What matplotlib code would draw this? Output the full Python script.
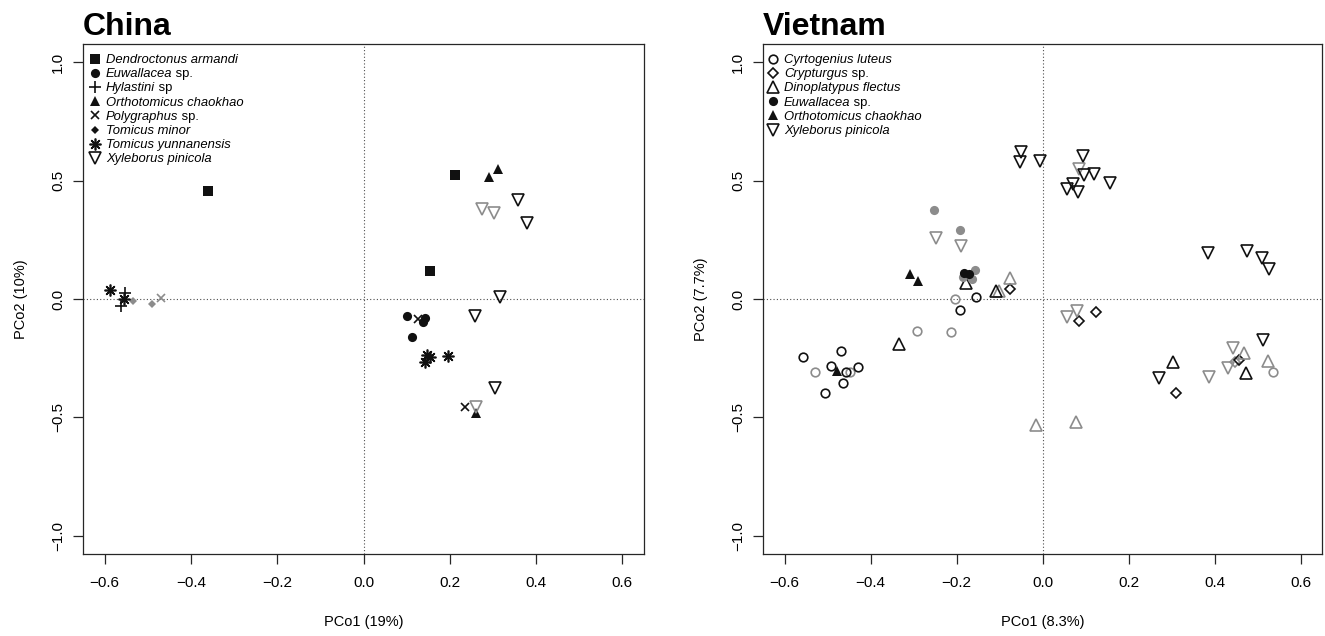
import matplotlib
matplotlib.use("Agg")
import matplotlib.pyplot as plt

plt.rcParams['font.family'] = ['Liberation Sans', 'DejaVu Sans']

BLACK = '#111111'
GREY = '#8c8c8c'

# ---- China: (PCo1, PCo2, shade)  shade 'k' = black, 'g' = grey
cn_dendroctonus = [(-0.360, 0.455, 'k'), (0.212, 0.523, 'k'), (0.154, 0.118, 'k')]
cn_euwallacea = [(0.100, -0.072, 'k'), (0.137, -0.096, 'k'), (0.142, -0.082, 'k'), (0.112, -0.160, 'k')]
cn_hylastini = [(-0.552, 0.025, 'k'), (-0.563, -0.030, 'k')]
cn_orthotomicus = [(0.290, 0.515, 'k'), (0.311, 0.549, 'k'), (0.260, -0.481, 'k')]
cn_polygraphus = [(0.126, -0.085, 'k'), (0.235, -0.456, 'k'), (-0.470, 0.004, 'g')]
cn_tomicus_minor = [(-0.535, -0.010, 'g'), (-0.489, -0.020, 'g')]
cn_tomicus_yunn = [(-0.587, 0.038, 'k'), (-0.556, 0.000, 'k'), (0.146, -0.237, 'k'),
                   (0.142, -0.265, 'k'), (0.153, -0.243, 'k'), (0.196, -0.240, 'k')]
cn_xyleborus = [(0.357, 0.418, 'k'), (0.380, 0.320, 'k'), (0.316, 0.008, 'k'),
                (0.258, -0.072, 'k'), (0.304, -0.376, 'k'),
                (0.274, 0.380, 'g'), (0.303, 0.363, 'g'), (0.260, -0.456, 'g')]

# ---- Vietnam
vn_cyrtogenius = [(-0.558, -0.246, 'k'), (-0.469, -0.218, 'k'), (-0.492, -0.283, 'k'),
                  (-0.430, -0.286, 'k'), (-0.457, -0.309, 'k'), (-0.465, -0.353, 'k'),
                  (-0.506, -0.398, 'k'), (-0.155, 0.007, 'k'), (-0.193, -0.046, 'k'),
                  (-0.529, -0.307, 'g'), (-0.448, -0.307, 'g'), (-0.293, -0.134, 'g'),
                  (-0.213, -0.141, 'g'), (-0.203, -0.001, 'g'), (0.537, -0.307, 'g')]
vn_crypturgus = [(-0.076, 0.041, 'k'), (0.084, -0.091, 'k'), (0.124, -0.053, 'k'),
                 (0.458, -0.257, 'k'), (0.310, -0.395, 'k'), (0.447, -0.268, 'g')]
vn_dinoplatypus = [(-0.177, 0.066, 'k'), (-0.109, 0.034, 'k'), (-0.334, -0.192, 'k'),
                   (0.304, -0.264, 'k'), (0.473, -0.311, 'k'),
                   (-0.101, 0.032, 'g'), (-0.076, 0.087, 'g'), (0.469, -0.229, 'g'),
                   (0.525, -0.260, 'g'), (-0.014, -0.534, 'g'), (0.079, -0.520, 'g')]
vn_euwallacea = [(-0.182, 0.111, 'k'), (-0.170, 0.106, 'k'),
                 (-0.253, 0.376, 'g'), (-0.193, 0.291, 'g'), (-0.156, 0.122, 'g'),
                 (-0.184, 0.094, 'g'), (-0.164, 0.084, 'g')]
vn_orthotomicus = [(-0.307, 0.104, 'k'), (-0.290, 0.077, 'k'), (-0.479, -0.302, 'k')]
vn_xyleborus = [(-0.049, 0.622, 'k'), (-0.053, 0.579, 'k'), (-0.006, 0.584, 'k'),
                (0.094, 0.603, 'k'), (0.096, 0.523, 'k'), (0.120, 0.530, 'k'),
                (0.157, 0.491, 'k'), (0.072, 0.485, 'k'), (0.057, 0.463, 'k'),
                (0.082, 0.453, 'k'), (0.385, 0.193, 'k'), (0.476, 0.203, 'k'),
                (0.510, 0.174, 'k'), (0.527, 0.125, 'k'), (0.513, -0.173, 'k'),
                (0.271, -0.335, 'k'),
                (0.084, 0.548, 'g'), (-0.247, 0.256, 'g'), (-0.189, 0.224, 'g'),
                (0.057, -0.077, 'g'), (0.080, -0.049, 'g'), (0.444, -0.208, 'g'),
                (0.431, -0.293, 'g'), (0.387, -0.328, 'g')]

# legend labels: (italic part, roman part)
cn_labels = [("Dendroctonus armandi", ""), ("Euwallacea", " sp."), ("Hylastini", " sp"),
             ("Orthotomicus chaokhao", ""), ("Polygraphus", " sp."), ("Tomicus minor", ""),
             ("Tomicus yunnanensis", ""), ("Xyleborus pinicola", "")]
vn_labels = [("Cyrtogenius luteus", ""), ("Crypturgus", " sp."), ("Dinoplatypus flectus", ""),
             ("Euwallacea", " sp."), ("Orthotomicus chaokhao", ""), ("Xyleborus pinicola", "")]

cn_data = [cn_dendroctonus, cn_euwallacea, cn_hylastini, cn_orthotomicus,
           cn_polygraphus, cn_tomicus_minor, cn_tomicus_yunn, cn_xyleborus]
vn_data = [vn_cyrtogenius, vn_crypturgus, vn_dinoplatypus, vn_euwallacea,
           vn_orthotomicus, vn_xyleborus]
cn_kinds = ['square', 'dot', 'plus', 'tri_fill', 'cross', 'dia_fill', 'star', 'tri_down']
vn_kinds = ['circle', 'dia_open', 'tri_up', 'dot', 'tri_fill', 'tri_down']

xticks = [-0.6, -0.4, -0.2, 0.0, 0.2, 0.4, 0.6]
yticks = [-1.0, -0.5, 0.0, 0.5, 1.0]


def mk(kind, c):
    if kind == 'square':
        return dict(marker='s', ms=6.7, mfc=c, mec=c, mew=0)
    if kind == 'dot':
        return dict(marker='o', ms=6.6, mfc=c, mec=c, mew=0)
    if kind == 'plus':
        return dict(marker='+', ms=8, mec=c, mew=1.2)
    if kind == 'tri_fill':
        return dict(marker='^', ms=7.8, mfc=c, mec=c, mew=0)
    if kind == 'cross':
        return dict(marker='x', ms=6, mec=c, mew=1.2)
    if kind == 'dia_fill':
        return dict(marker='D', ms=3.6, mfc=c, mec=c, mew=0)
    if kind == 'star':
        return dict(marker=(8, 2, 0), ms=8.5, mec=c, mew=1.2)
    if kind == 'tri_down':
        return dict(marker='v', ms=8.3, mfc='none', mec=c, mew=1.2)
    if kind == 'circle':
        return dict(marker='o', ms=6.2, mfc='none', mec=c, mew=1.2)
    if kind == 'dia_open':
        return dict(marker='D', ms=5.2, mfc='none', mec=c, mew=1.2)
    if kind == 'tri_up':
        return dict(marker='^', ms=8.3, mfc='none', mec=c, mew=1.2)


def panel(ax, title, data, kinds, labels, xlab, ylab, leg_dx):
    ax.axhline(0, color='0.3', lw=0.8, ls=(0, (1, 2)), zorder=1)
    ax.axvline(0, color='0.3', lw=0.8, ls=(0, (1, 2)), zorder=1)
    for pts, kind in zip(data, kinds):
        for shade, col in (('g', GREY), ('k', BLACK)):
            xs = [p[0] for p in pts if p[2] == shade]
            ys = [p[1] for p in pts if p[2] == shade]
            if xs:
                ax.plot(xs, ys, ls='none', zorder=3, **mk(kind, col))
    ax.set_xlim(-0.65, 0.65)
    ax.set_ylim(-1.077, 1.077)
    ax.set_xticks(xticks)
    ax.set_yticks(yticks)
    ax.set_xticklabels(['%.1f' % v if v >= 0 else '\u2212%.1f' % -v for v in xticks])
    ax.set_yticklabels(['%.1f' % v if v >= 0 else '\u2212%.1f' % -v for v in yticks],
                       rotation=90, va='center')
    ax.tick_params(axis='x', length=7.2, width=0.9, color='0.15', pad=8.5, labelsize=11)
    ax.tick_params(axis='y', length=7.2, width=0.9, color='0.15', pad=5.5, labelsize=11)
    for s in ax.spines.values():
        s.set_linewidth(0.9)
        s.set_color('0.15')
    ax.set_xlabel(xlab, fontsize=10.5, labelpad=18)
    ax.set_ylabel(ylab, fontsize=10.5, labelpad=17)
    ax.annotate(title, xy=(0, 1), xycoords='axes fraction', xytext=(0, 6.5),
                textcoords='offset points', ha='left', va='baseline',
                fontsize=23, fontweight='bold')

    # legend drawn row by row (italic genus + roman "sp.")
    w = ax.bbox.width
    h = ax.bbox.height
    for i, ((ital, rom), kind) in enumerate(zip(labels, kinds)):
        yc = 1 - (15 + 14.1 * i) / h
        ax.plot([leg_dx / w], [yc], transform=ax.transAxes, clip_on=False,
                ls='none', **mk(kind, BLACK))
        t = ax.text((leg_dx + 11) / w, yc - 4.3 / h, ital, transform=ax.transAxes,
                    fontsize=9.4, style='italic', ha='left', va='baseline')
        if rom:
            ax.annotate(rom, xy=(1, 0), xycoords=t, ha='left', va='bottom',
                        fontsize=9.4)


fig = plt.figure(figsize=(13.25, 6.36), dpi=100)
H = 636.0
W = 1325.0
ax1 = fig.add_axes([83 / W, (H - 554) / H, 561 / W, 510 / H])
ax2 = fig.add_axes([763 / W, (H - 554) / H, 559 / W, 510 / H])

panel(ax1, "China", cn_data, cn_kinds, cn_labels, "PCo1 (19%)", "PCo2 (10%)", 12)
panel(ax2, "Vietnam", vn_data, vn_kinds, vn_labels, "PCo1 (8.3%)", "PCo2 (7.7%)", 10)

fig.savefig("out.png", dpi=100)
